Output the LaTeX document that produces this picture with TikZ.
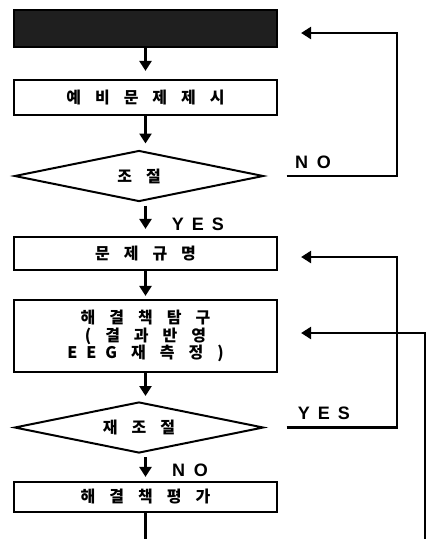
\documentclass[tikz,border=0pt]{standalone}
\usepackage{fontspec}
\newfontfamily\kr{Noto Sans CJK KR}
\newfontfamily\lat{Liberation Sans}
\usetikzlibrary{arrows.meta,shapes.geometric,calc}
\newcommand{\gp}{\hspace{14pt}}
\newcommand{\lgap}{\hspace{9pt}}
\tikzset{
  box/.style={draw=black, line width=2.2pt, minimum width=263pt, inner sep=0pt, font=\kr\bfseries\fontsize{16pt}{17.5pt}\selectfont, align=center},
  dia/.style={draw=black, line width=2pt, diamond, shape aspect=4.88, minimum width=249pt, minimum height=51pt, inner sep=0pt, font=\kr\bfseries\fontsize{16pt}{17pt}\selectfont},
  arr/.style={line width=2.8pt, -{Triangle[width=12pt,length=10pt]}},
  ln/.style={line width=2.2pt},
  lbl/.style={font=\lat\bfseries\fontsize{18pt}{18pt}\selectfont, inner sep=0pt}
}
\begin{document}
\begin{tikzpicture}[x=1pt,y=-1pt]
\useasboundingbox (0,0) rectangle (427,539);
% boxes
\node[box, fill=black!88, minimum height=37pt] (top) at (145.5,28.5) {};
\node[box, minimum height=35pt] (b1) at (145.5,97.5) {예\gp 비\gp 문\gp 제\gp 제\gp 시};
\node[dia] (d1) at (139,176) {조\gp 절};
\node[box, minimum height=33pt] (b2) at (145.5,253.5) {문\gp 제\gp 규\gp 명};
\node[box, minimum height=72pt] (b3) at (145.5,336) {해\gp 결\gp 책\gp 탐\gp 구\\(\gp 결\gp 과\gp 반\gp 영\\E\lgap E\lgap G\gp 재\gp 측\gp 정\gp )};
\node[dia] (d2) at (139,427.5) {재\gp 조\gp 절};
\node[box, minimum height=30pt] (b4) at (145.5,497) {해\gp 결\gp 책\gp 평\gp 가};
% labels
\node[lbl] (lno1) at (313,162) {N\hspace{9pt}O};
\node[lbl] (lyes1) at (198,224) {Y\hspace{8pt}E\hspace{8pt}S};
\node[lbl] (lyes2) at (324,413) {Y\hspace{8pt}E\hspace{8pt}S};
\node[lbl] (lno2) at (190,470) {N\hspace{9pt}O};
% coordinates
\coordinate (loopA) at (397,33);
\coordinate (loopB) at (397,257);
\coordinate (rt) at (425,333);
\coordinate (rb) at (425,539);
\coordinate (endc) at (145.5,539);
% main arrows
\draw[arr, shorten >=8pt] (top.south) -- (b1.north);
\draw[arr, shorten >=6pt] (b1.south) -- (b1.south |- d1.north);
\draw[arr, shorten >=7pt, shorten <=3pt] (b2.north |- d1.south) -- (b2.north);
\draw[arr, shorten >=3pt] (b2.south) -- (b3.north);
\draw[arr, shorten >=5pt] (b3.south) -- (b3.south |- d2.north);
\draw[arr, shorten >=4pt, shorten <=3pt] (b4.north |- d2.south) -- (b4.north);
\draw[ln] (b4.south) -- (endc);
% feedback loops
\draw[arr, shorten <=22pt, shorten >=23pt] (d1.east) -| (loopA) -- (top.east |- loopA);
\draw[arr, shorten <=22pt, shorten >=23pt] (d2.east) -| (loopB) -- (b2.east |- loopB);
\draw[arr, shorten >=23pt] (rb) -- (rt) -- (b3.east |- rt);
\end{tikzpicture}
\end{document}
